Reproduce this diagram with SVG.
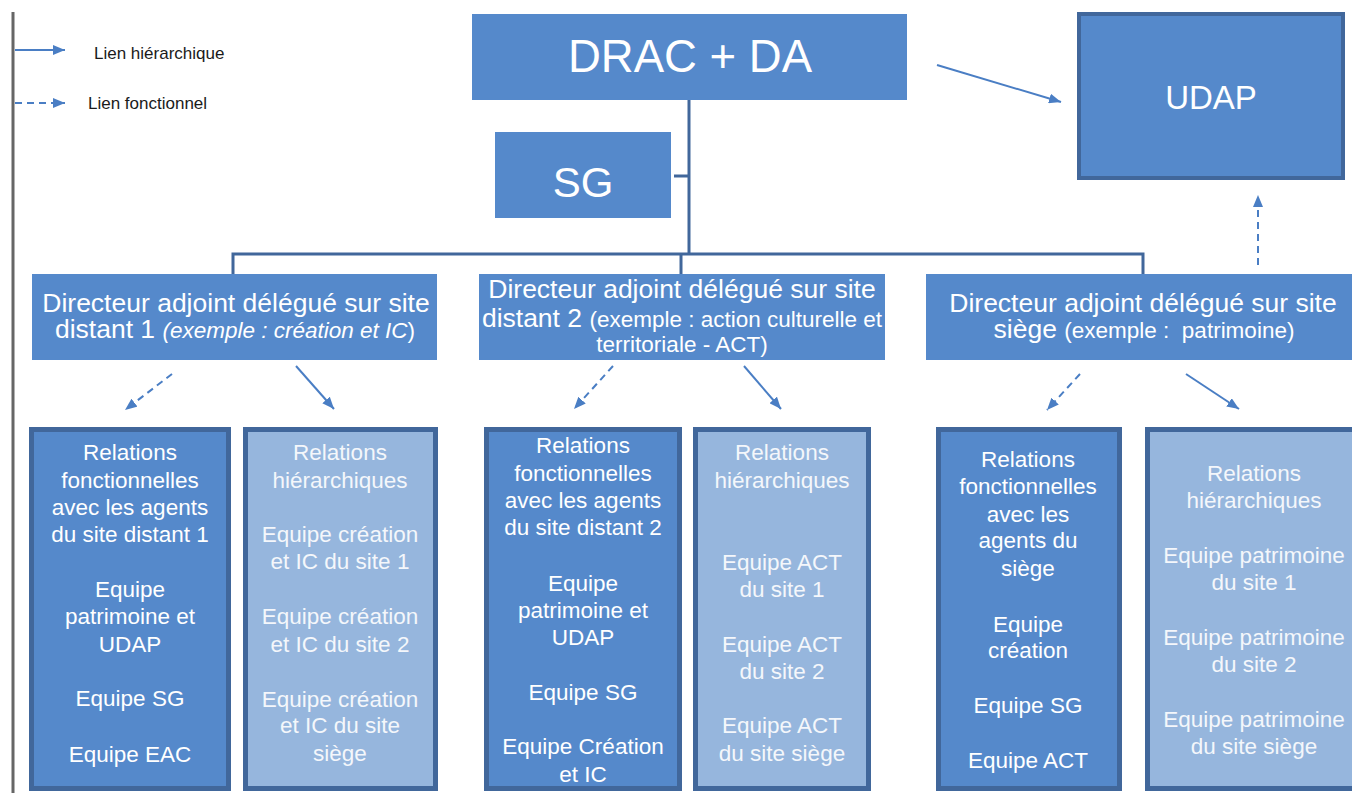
<svg xmlns="http://www.w3.org/2000/svg" width="1352" height="793" viewBox="0 0 1352 793">
<style>
text{font-family:"Liberation Sans",Arial,sans-serif;}
.box{fill:#5589CB;}
.dbox{fill:#5589CB;stroke:#41679B;stroke-width:5;}
.lbox{fill:#96B6DD;stroke:#41679B;stroke-width:5;}
.t{fill:#FFFFFF;font-size:22.5px;text-anchor:middle;}
.lt{fill:#F4F7FB;font-size:22.5px;text-anchor:middle;}
.h{fill:#FFFFFF;font-size:26.5px;text-anchor:middle;}
.s{font-size:22.5px;}
.conn{stroke:#41679B;stroke-width:3;fill:none;}
.arr{stroke:#4A7EC4;stroke-width:2;fill:none;marker-end:url(#ah);}
.darr{stroke:#4A7EC4;stroke-width:2;fill:none;stroke-dasharray:7 5;marker-end:url(#ah);}
.leg{fill:#1a1a1a;font-size:17px;}
</style>
<defs>
<marker id="ah" viewBox="0 0 12 10" refX="12" refY="5" markerWidth="12" markerHeight="10" orient="auto" markerUnits="userSpaceOnUse">
<path d="M0,0 L12,5 L0,10 z" fill="#4A7EC4"/>
</marker>
</defs>
<rect width="1352" height="793" fill="#FFFFFF"/>
<line x1="13" y1="12" x2="13" y2="793" stroke="#666666" stroke-width="3"/>
<g id="legend">
<line class="arr" x1="15" y1="50" x2="65" y2="50"/>
<text class="leg" x="94" y="59">Lien hiérarchique</text>
<line class="darr" x1="15" y1="103" x2="65" y2="103" stroke-dasharray="6 4"/>
<text class="leg" x="88" y="109">Lien fonctionnel</text>
</g>
<g id="connectors">
<line class="conn" x1="689" y1="100" x2="689" y2="254"/>
<line class="conn" x1="674" y1="176" x2="689" y2="176"/>
<polyline class="conn" points="233,274 233,254 1143,254 1143,274"/>
<line class="conn" x1="681" y1="254" x2="681" y2="274"/>
<line class="arr" x1="937" y1="65" x2="1061" y2="102"/>
<line class="darr" x1="1258" y1="265" x2="1258" y2="195"/>
<line class="darr" x1="172" y1="374" x2="125" y2="410"/>
<line class="arr" x1="296" y1="366" x2="334" y2="409"/>
<line class="darr" x1="613" y1="366" x2="574" y2="409"/>
<line class="arr" x1="744" y1="366" x2="781" y2="409"/>
<line class="darr" x1="1080" y1="374" x2="1047" y2="410"/>
<line class="arr" x1="1186" y1="374" x2="1239" y2="409"/>
</g>
<g id="drac">
<rect class="box" x="472" y="14" width="435" height="86"/>
<text class="t" x="690" y="72" style="font-size:45.5px">DRAC + DA</text>
</g>
<g id="sg">
<rect class="box" x="495" y="132" width="176" height="86"/>
<text class="t" x="583" y="197" style="font-size:42px">SG</text>
</g>
<g id="udap">
<rect class="box" x="1079" y="14" width="264" height="164" stroke="#41679B" stroke-width="4"/>
<text class="t" x="1211" y="109" style="font-size:33px">UDAP</text>
</g>
<g id="dir1">
<rect class="box" x="32" y="274" width="405" height="86"/>
<text class="h"><tspan x="236" y="312">Directeur adjoint délégué sur site</tspan><tspan x="235" y="338">distant 1 </tspan><tspan class="s" font-style="italic">(exemple : création et IC</tspan><tspan class="s">)</tspan></text>
</g>
<g id="dir2">
<rect class="box" x="479" y="274" width="406" height="86"/>
<text class="h"><tspan x="682" y="298">Directeur adjoint délégué sur site</tspan><tspan x="682" y="327">distant 2 <tspan class="s">(exemple : action culturelle et</tspan></tspan><tspan class="s" x="682" y="352">territoriale - ACT)</tspan></text>
</g>
<g id="dir3">
<rect class="box" x="926" y="274" width="430" height="86"/>
<text class="h"><tspan x="1143" y="312">Directeur adjoint délégué sur site</tspan><tspan x="1144" y="338">siège <tspan class="s">(exemple :&#160; patrimoine)</tspan></tspan></text>
</g>
<g id="fonc1">
<rect class="dbox" x="31.5" y="429.5" width="197" height="359"/>
<text class="t" x="130"><tspan x="130" y="460">Relations</tspan><tspan x="130" y="488">fonctionnelles</tspan><tspan x="130" y="515">avec les agents</tspan><tspan x="130" y="542">du site distant 1</tspan><tspan x="130" y="597">Equipe</tspan><tspan x="130" y="624">patrimoine et</tspan><tspan x="130" y="652">UDAP</tspan><tspan x="130" y="706">Equipe SG</tspan><tspan x="130" y="762">Equipe EAC</tspan></text>
</g>
<g id="hier1">
<rect class="lbox" x="245.5" y="429.5" width="190" height="359"/>
<text class="lt" x="340"><tspan x="340" y="460">Relations</tspan><tspan x="340" y="488">hiérarchiques</tspan><tspan x="340" y="542">Equipe création</tspan><tspan x="340" y="569">et IC du site 1</tspan><tspan x="340" y="624">Equipe création</tspan><tspan x="340" y="652">et IC du site 2</tspan><tspan x="340" y="707">Equipe création</tspan><tspan x="340" y="733">et IC du site</tspan><tspan x="340" y="761">siège</tspan></text>
</g>
<g id="fonc2">
<rect class="dbox" x="486.5" y="429.5" width="193" height="359"/>
<text class="t" x="583"><tspan x="583" y="453">Relations</tspan><tspan x="583" y="481">fonctionnelles</tspan><tspan x="583" y="508">avec les agents</tspan><tspan x="583" y="535">du site distant 2</tspan><tspan x="583" y="591">Equipe</tspan><tspan x="583" y="618">patrimoine et</tspan><tspan x="583" y="645">UDAP</tspan><tspan x="583" y="700">Equipe SG</tspan><tspan x="583" y="754">Equipe Création</tspan><tspan x="583" y="782">et IC</tspan></text>
</g>
<g id="hier2">
<rect class="lbox" x="695.5" y="429.5" width="173" height="359"/>
<text class="lt" x="782"><tspan x="782" y="460">Relations</tspan><tspan x="782" y="488">hiérarchiques</tspan><tspan x="782" y="570">Equipe ACT</tspan><tspan x="782" y="597">du site 1</tspan><tspan x="782" y="652">Equipe ACT</tspan><tspan x="782" y="679">du site 2</tspan><tspan x="782" y="733">Equipe ACT</tspan><tspan x="782" y="761">du site siège</tspan></text>
</g>
<g id="fonc3">
<rect class="dbox" x="938.5" y="429.5" width="181" height="359"/>
<text class="t" x="1028"><tspan x="1028" y="467">Relations</tspan><tspan x="1028" y="494">fonctionnelles</tspan><tspan x="1028" y="522">avec les</tspan><tspan x="1028" y="548">agents du</tspan><tspan x="1028" y="576">siège</tspan><tspan x="1028" y="632">Equipe</tspan><tspan x="1028" y="658">création</tspan><tspan x="1028" y="713">Equipe SG</tspan><tspan x="1028" y="768">Equipe ACT</tspan></text>
</g>
<g id="hier3">
<rect class="lbox" x="1147.5" y="429.5" width="215" height="359"/>
<text class="lt" x="1254"><tspan x="1254" y="481">Relations</tspan><tspan x="1254" y="508">hiérarchiques</tspan><tspan x="1254" y="563">Equipe patrimoine</tspan><tspan x="1254" y="590">du site 1</tspan><tspan x="1254" y="645">Equipe patrimoine</tspan><tspan x="1254" y="672">du site 2</tspan><tspan x="1254" y="727">Equipe patrimoine</tspan><tspan x="1254" y="754">du site siège</tspan></text>
</g>
</svg>
